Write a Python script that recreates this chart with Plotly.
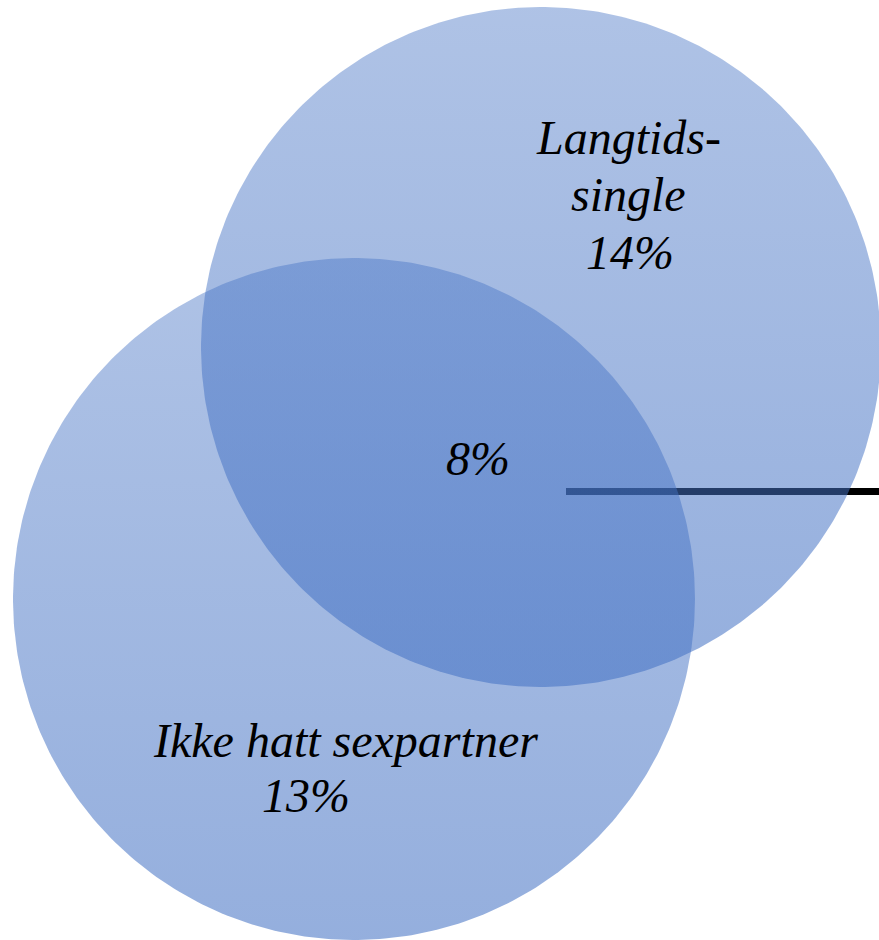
import numpy as np
import plotly.graph_objects as go

# Venn: share of respondents in each group
group_labels = ["Langtids-<br>single", "Ikke hatt sexpartner"]
group_shares = [14, 13]
overlap_share = 8

W, H = 879, 940
# circle geometry in page pixels (x right, y up)
circles = [
    dict(cx=541, cy=H - 347, r=340),   # Langtids-single
    dict(cx=354, cy=H - 599, r=341),   # Ikke hatt sexpartner
]

fig = go.Figure()

# pointer line sits beneath the translucent circles
fig.add_trace(go.Scatter(
    x=[566, W + 5], y=[H - 491.5, H - 491.5], mode="lines",
    line=dict(color="black", width=7), hoverinfo="skip", showlegend=False,
))

t = np.linspace(0, 2 * np.pi, 400)
for c in circles:
    xs = c["cx"] + c["r"] * np.cos(t)
    ys = c["cy"] + c["r"] * np.sin(t)
    fig.add_trace(go.Scatter(
        x=xs, y=ys, mode="lines", fill="toself",
        line=dict(width=0, color="rgba(0,0,0,0)"),
        fillgradient=dict(
            type="vertical",
            start=c["cy"] - c["r"], stop=c["cy"] + c["r"],
            colorscale=[[0, "rgba(68,114,196,0.57)"], [1, "rgba(68,114,196,0.43)"]],
        ),
        hoverinfo="skip", showlegend=False,
    ))

font = dict(family="Liberation Serif", size=48, color="black", style="italic")

def label(text, x, y):
    fig.add_annotation(x=x, y=H - y, text=text, showarrow=False,
                       xanchor="center", yanchor="middle", font=font)

top_lines = group_labels[0].split("<br>")
label(top_lines[0], 628, 137)
label(top_lines[1], 628, 194)
label(f"{group_shares[0]}%", 630, 252)
label(group_labels[1], 345, 740)
label(f"{group_shares[1]}%", 306, 795)
label(f"{overlap_share}%", 478, 458)

fig.update_xaxes(range=[0, W], visible=False, fixedrange=True)
fig.update_yaxes(range=[0, H], visible=False, fixedrange=True)
fig.update_layout(
    width=W, height=H, margin=dict(l=0, r=0, t=0, b=0),
    paper_bgcolor="white", plot_bgcolor="white",
)

fig.write_html("out.html", config={"displayModeBar": False})
